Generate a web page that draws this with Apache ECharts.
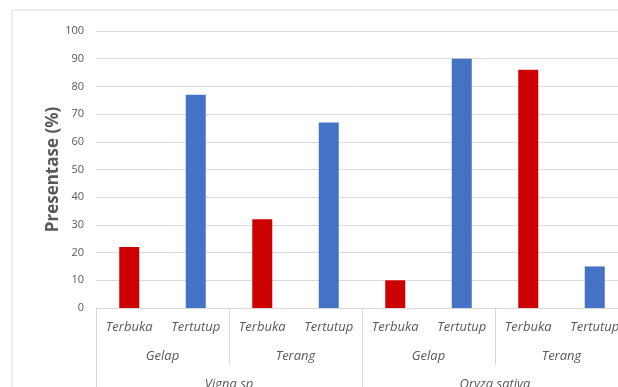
<!DOCTYPE html>
<html>
<head>
<meta charset="utf-8">
<script src="https://cdn.jsdelivr.net/npm/echarts@6/dist/echarts.min.js"></script>
<style>
  html, body { margin: 0; padding: 0; background: #fff; }
  #main { width: 618px; height: 387px; }
</style>
</head>
<body>
<div id="main"></div>
<script>
// data
const kondisi = ['Terbuka', 'Tertutup', 'Terbuka', 'Tertutup', 'Terbuka', 'Tertutup', 'Terbuka', 'Tertutup'];
const cahaya = ['Gelap', 'Terang', 'Gelap', 'Terang'];
const tanaman = ['Vigna sp', 'Oryza sativa'];
const terbuka = [22, '-', 32, '-', 10, '-', 86, '-'];
const tertutup = ['-', 77, '-', 67, '-', 90, '-', 15];
const yTicks = [0, 10, 20, 30, 40, 50, 60, 70, 80, 90, 100];

const grey = '#d9d9d9';
const textGrey = '#595959';
const font = '"Open Sans", "Liberation Sans", sans-serif';

var myChart = echarts.init(document.querySelector('#main'));

var option = {
  animation: false,
  grid: { left: 96, right: -10, top: 31, bottom: 79, outerBoundsMode: 'none', containLabel: false },
  graphic: [{
    type: 'rect',
    shape: { x: 12, y: 10, width: 700, height: 500 },
    style: { fill: 'none', stroke: grey, lineWidth: 1 },
    silent: true,
    z: -10
  }],
  xAxis: [
    {
      type: 'category',
      data: kondisi,
      position: 'bottom',
      axisLine: { lineStyle: { color: grey } },
      axisTick: { show: false },
      axisLabel: { color: textGrey, fontSize: 13, fontStyle: 'italic', fontFamily: font, margin: 13, interval: 0 }
    },
    {
      type: 'category',
      data: cahaya,
      position: 'bottom',
      gridIndex: 0,
      axisLine: { show: false },
      axisTick: { show: true, length: 57, interval: 0, lineStyle: { color: grey } },
      axisLabel: { color: textGrey, fontSize: 13, fontStyle: 'italic', fontFamily: font, margin: 42, interval: 0 }
    },
    {
      type: 'category',
      data: tanaman,
      position: 'bottom',
      gridIndex: 0,
      axisLine: { show: false },
      axisTick: { show: true, length: 90, interval: 0, lineStyle: { color: grey } },
      axisLabel: { color: textGrey, fontSize: 13, fontStyle: 'italic', fontFamily: font, margin: 70, interval: 0 }
    }
  ],
  yAxis: {
    type: 'value',
    min: yTicks[0],
    max: yTicks[yTicks.length - 1],
    interval: 10,
    name: 'Presentase (%)',
    nameLocation: 'middle',
    nameGap: 34,
    nameMoveOverlap: false,
    nameTextStyle: { color: textGrey, fontSize: 17, fontWeight: 'bold', fontFamily: font },
    axisLine: { show: false },
    axisTick: { show: false },
    axisLabel: { color: textGrey, fontSize: 11, fontFamily: font, margin: 12 },
    splitLine: { lineStyle: { color: grey } }
  },
  series: [
    {
      name: 'Terbuka',
      type: 'bar',
      xAxisIndex: 0,
      data: terbuka,
      barWidth: 20,
      barGap: '-100%',
      itemStyle: { color: '#cc0000' }
    },
    {
      name: 'Tertutup',
      type: 'bar',
      xAxisIndex: 0,
      data: tertutup,
      barWidth: 20,
      barGap: '-100%',
      itemStyle: { color: '#4472c4' }
    }
  ]
};

myChart.setOption(option);
</script>
</body>
</html>
